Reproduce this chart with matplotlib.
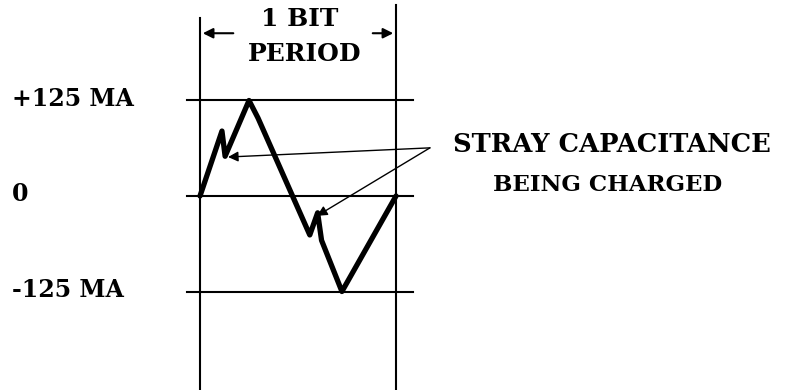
import numpy as np
import matplotlib
matplotlib.use("Agg")
import matplotlib.pyplot as plt

# waveform: time in bit periods, current in MA
t_bits = [0.0, 0.05, 0.112, 0.128, 0.25, 0.296, 0.56, 0.60, 0.62, 0.724, 1.0]
current_ma = [0, 38, 85, 52, 125, 102, -51, -22, -58, -125, 0]

levels = [125, 0, -125]
level_labels = ["+125 MA", "0", "-125 MA"]
bit_edges = [0.0, 1.0]

# pointers for the stray capacitance note (t, I)
note_xy = (1.173, 63)
stray_points = [(0.143, 51), (0.597, -26)]

plt.rcParams['font.family'] = ['DejaVu Serif']
fig = plt.figure(figsize=(8.01, 3.90), dpi=100)
ax = fig.add_axes([0, 0, 1, 1])
ax.set_xlim(-1.0204, 3.066)
ax.set_ylim(-253.9, 256.5)
ax.axis('off')

# level lines
for lv in levels:
    ax.plot([-0.066, 1.087], [lv, lv], color='black', lw=1.5)

# bit period boundaries
ax.plot([bit_edges[0]] * 2, [233, -256], color='black', lw=1.5)
ax.plot([bit_edges[1]] * 2, [250, -256], color='black', lw=1.5)

# waveform
ax.plot(t_bits, current_ma, color='black', lw=3.8, solid_joinstyle='round', solid_capstyle='round')

# level labels
for lv, lab in zip(levels, level_labels):
    ax.text(-0.959, lv + 2, lab, ha='left', va='center', fontsize=17, fontweight='bold')

# bit period dimension
dim_y = 213
ax.annotate('', xy=(bit_edges[0], dim_y), xytext=(0.184, dim_y),
            arrowprops=dict(arrowstyle='-|>', color='black', lw=1.5, mutation_scale=15))
ax.annotate('', xy=(bit_edges[1], dim_y), xytext=(0.867, dim_y),
            arrowprops=dict(arrowstyle='-|>', color='black', lw=1.5, mutation_scale=15))
ax.text(0.51, 232, "1 BIT", ha='center', va='center', fontsize=18, fontweight='bold')
ax.text(0.536, 186, "PERIOD", ha='center', va='center', fontsize=18, fontweight='bold')

# stray capacitance note
for p in stray_points:
    ax.annotate('', xy=p, xytext=note_xy,
                arrowprops=dict(arrowstyle='-|>', color='black', lw=1.0, mutation_scale=15,
                                shrinkA=0, shrinkB=0))
ax.text(2.102, 67, "STRAY CAPACITANCE", ha='center', va='center', fontsize=18.5, fontweight='bold')
ax.text(2.082, 14, "BEING CHARGED", ha='center', va='center', fontsize=16.5, fontweight='bold')

fig.savefig('out.png', dpi=100)
